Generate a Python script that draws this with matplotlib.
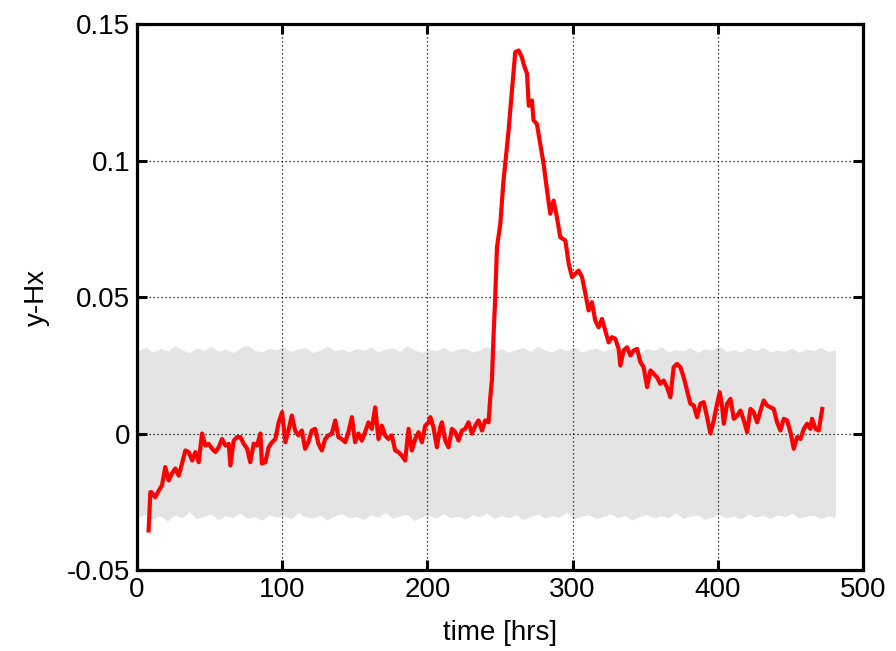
import numpy as np
import matplotlib.pyplot as plt

plt.rcParams['font.family'] = ['Liberation Sans', 'DejaVu Sans']

# innovation time series (hours, y-Hx)
t_hrs = [8, 9.2, 10, 12.6, 15, 17.2, 19.5, 21.8, 24, 26.4, 28.7, 31, 33.3, 35.6, 38, 40.2,
         42.5, 44.8, 47, 49.4, 51.7, 54, 56.3, 58.6, 60.9, 63.2, 64.3, 66.6, 68.9, 71.2,
         73.5, 75.8, 78, 80.4, 82.7, 85, 86, 88.4, 90.7, 93, 95.3, 97.6, 99.9, 102.2,
         104.3, 106.6, 108.9, 111.2, 113.5, 115.8, 118, 120.4, 122.7, 125, 127.3, 129.6,
         131.8, 134.2, 136.5, 138.7, 141, 143.4, 145.6, 148, 150.2, 152.5, 154.8, 157.1,
         159.4, 161.7, 164, 166.3, 168.6, 170.9, 173.2, 175.5, 177.8, 180.1, 182.4, 184.7,
         187, 189.3, 191.6, 193.9, 196.2, 198.5, 200.8, 202, 204.2, 206.5, 208.8, 210,
         212.3, 214.5, 216.9, 219.2, 221.4, 223.8, 226, 228.3, 230.7, 233, 235.2, 237.6,
         239.8, 242.1, 243.3, 244.4, 245.6, 246.7, 247.9, 250.2, 252.4, 253.6, 255.9,
         258.2, 260.5, 262.8, 265.1, 266.2, 268.6, 269.8, 272, 273.1, 275.4, 277.7, 280,
         282.4, 284.6, 286.9, 289.2, 291.5, 295, 297.3, 299.6, 301.9, 304.1, 306.5, 308.8,
         311, 313.3, 315.6, 317.9, 320.2, 322.5, 324.8, 327.1, 329.4, 331.7, 332.9, 335.1,
         337.5, 339.8, 342, 344.4, 346.7, 348.9, 351.3, 353.6, 355.8, 358.1, 360.4, 362.7,
         365, 367.3, 369.6, 371.9, 374.2, 376.5, 378.8, 381.1, 383.4, 385.7, 388, 390.3,
         392.6, 394.9, 397.2, 399.5, 401.3, 403, 404.1, 406.4, 408.7, 411, 413.3, 415.6,
         417.9, 420.2, 422.5, 424.7, 427.1, 429.4, 431.6, 433.9, 436.2, 438.5, 440.8,
         443.1, 445.4, 447.7, 450, 452.3, 454.6, 456.9, 459.2, 461.5, 463.8, 464.9, 467.3,
         469.5, 471.9]
innov = [-0.0355, -0.0215, -0.0215, -0.0233, -0.0209, -0.019, -0.0123, -0.0172, -0.0147,
         -0.0128, -0.0154, -0.011, -0.0062, -0.0068, -0.0099, -0.0068, -0.0105, 0.0,
         -0.0044, -0.0038, -0.0056, -0.0068, -0.005, -0.002, -0.0044, -0.0038, -0.0117,
         -0.0026, -0.0013, -0.0013, -0.0038, -0.0055, -0.0105, -0.0037, -0.0044, 0.0,
         -0.011, -0.0105, -0.005, -0.0032, -0.002, 0.0041, 0.0078, -0.0032,
         0.0011, 0.0066, 0.0011, -0.0007, 0.0011, -0.0056, -0.0032, 0.0011, 0.0017,
         -0.0038, -0.0062, -0.002, -0.0007, 0.0, 0.0048, -0.0013, -0.002, -0.0032, 0.0005,
         0.006, -0.0032, 0.0, -0.0026, 0.0005, 0.0041, 0.0017, 0.0096, -0.002, 0.0029,
         -0.0007, -0.002, -0.0007, -0.0062, -0.0068, -0.0081, -0.0099, 0.0017, -0.0062,
         -0.002, 0.0005, -0.0032, 0.0029, 0.0041, 0.006, 0.0023, -0.005, 0.0023, 0.0041,
         -0.0026, -0.005, 0.0017, 0.0005, -0.0026, 0.0011, 0.0017, 0.0041, 0.0, 0.0029,
         0.0048, 0.0011, 0.0048, 0.0041, 0.0133, 0.0194, 0.0365, 0.0499, 0.0682, 0.0768,
         0.0927, 0.0988, 0.111, 0.1256, 0.1397, 0.1403, 0.1378, 0.1354, 0.1318, 0.1201,
         0.122, 0.1147, 0.1134, 0.1061, 0.0988, 0.089, 0.0805, 0.0853, 0.0792, 0.0719,
         0.0707, 0.0622, 0.0573, 0.0585, 0.0597, 0.0573, 0.0512, 0.0451, 0.0481, 0.0414,
         0.0389, 0.042, 0.0377, 0.0334, 0.0353, 0.0347, 0.031, 0.0249, 0.0304, 0.0316,
         0.0286, 0.0304, 0.031, 0.0261, 0.0243, 0.017, 0.0231, 0.0219, 0.0206, 0.0182,
         0.0194, 0.017, 0.0133, 0.0243, 0.0255, 0.0243, 0.0206, 0.0158, 0.0109, 0.0103,
         0.006, 0.0109, 0.0115, 0.006, 0.0, 0.0048, 0.0109, 0.0151, 0.0096, 0.0036,
         0.0109, 0.0127, 0.0054, 0.0066, 0.0084, 0.0048, 0.0005, 0.009, 0.0078, 0.0041,
         0.0084, 0.0121, 0.0103, 0.0096, 0.009, 0.0041, 0.0011, 0.0054, 0.0048, 0.0005,
         -0.0056, -0.0013, -0.002, 0.0017, 0.0036, 0.0017, 0.0054, 0.0017, 0.0011, 0.009]

# expected spread envelope (+/- sigma), every 5 hrs
band_t = list(range(1, 482, 5))
band_hi = [0.0305, 0.0316, 0.0298, 0.0311, 0.0302, 0.0322, 0.0307, 0.0296, 0.0314, 0.0303,
           0.0319, 0.0301, 0.0309, 0.0297, 0.0313, 0.0325, 0.0304, 0.0299, 0.0311, 0.0306,
           0.0318, 0.0300, 0.0309, 0.0315, 0.0297, 0.0305, 0.0321, 0.0303, 0.0310, 0.0298,
           0.0312, 0.0304, 0.0317, 0.0299, 0.0308, 0.0314, 0.0301, 0.0323, 0.0306, 0.0297,
           0.0310, 0.0303, 0.0316, 0.0300, 0.0309, 0.0312, 0.0298, 0.0306, 0.0319, 0.0302,
           0.0311, 0.0297, 0.0308, 0.0314, 0.0300, 0.0320, 0.0305, 0.0299, 0.0312, 0.0303,
           0.0317, 0.0298, 0.0307, 0.0313, 0.0301, 0.0309, 0.0322, 0.0300, 0.0306, 0.0296,
           0.0311, 0.0304, 0.0318, 0.0299, 0.0308, 0.0302, 0.0315, 0.0297, 0.0310, 0.0305,
           0.0321, 0.0300, 0.0307, 0.0298, 0.0313, 0.0303, 0.0316, 0.0299, 0.0306, 0.0301,
           0.0312, 0.0297, 0.0309, 0.0304, 0.0315, 0.0300, 0.0307]
band_lo = [-0.0307, -0.0296, -0.0314, -0.0301, -0.0320, -0.0298, -0.0309, -0.0287, -0.0312, -0.0303,
           -0.0295, -0.0316, -0.0300, -0.0308, -0.0292, -0.0311, -0.0304, -0.0318, -0.0297, -0.0306,
           -0.0301, -0.0313, -0.0289, -0.0305, -0.0310, -0.0298, -0.0317, -0.0302, -0.0293, -0.0309,
           -0.0304, -0.0315, -0.0299, -0.0307, -0.0288, -0.0311, -0.0302, -0.0296, -0.0319, -0.0305,
           -0.0300, -0.0310, -0.0294, -0.0308, -0.0303, -0.0314, -0.0297, -0.0306, -0.0291, -0.0312,
           -0.0301, -0.0309, -0.0298, -0.0316, -0.0304, -0.0295, -0.0310, -0.0300, -0.0307, -0.0286,
           -0.0313, -0.0302, -0.0298, -0.0311, -0.0305, -0.0293, -0.0309, -0.0300, -0.0317, -0.0304,
           -0.0296, -0.0310, -0.0301, -0.0308, -0.0290, -0.0312, -0.0303, -0.0299, -0.0315, -0.0306,
           -0.0297, -0.0309, -0.0302, -0.0313, -0.0295, -0.0307, -0.0300, -0.0311, -0.0298, -0.0305,
           -0.0292, -0.0310, -0.0303, -0.0299, -0.0312, -0.0301, -0.0306]

xticks = [0, 100, 200, 300, 400, 500]
yticks = [-0.05, 0, 0.05, 0.1, 0.15]
ytick_labels = ['-0.05', '0', '0.05', '0.1', '0.15']

fig = plt.figure(figsize=(8.96, 6.51), dpi=100)
ax = fig.add_axes([0.1529, 0.1244, 0.8103, 0.8387])

ax.fill_between(band_t, band_lo, band_hi, color='#e4e4e4', linewidth=0, zorder=1)
ax.plot(t_hrs, innov, color='#ff0000', linewidth=3.0, zorder=3)

ax.set_xlim(0, 500)
ax.set_ylim(-0.05, 0.15)
ax.set_xticks(xticks)
ax.set_xticklabels([str(v) for v in xticks])
ax.set_yticks(yticks)
ax.set_yticklabels(ytick_labels)

ax.grid(True, color='black', linestyle=(0, (1, 2.2)), linewidth=0.9, zorder=2)
ax.set_axisbelow(False)
for sp in ax.spines.values():
    sp.set_linewidth(2.3)
    sp.set_zorder(4)
ax.tick_params(direction='in', length=7, width=2.2, top=True, right=True,
               labelsize=20, pad=5)

ax.set_xlabel('time [hrs]', fontsize=20, labelpad=12)
ax.set_ylabel('y-Hx', fontsize=20, labelpad=12)

fig.savefig('out.png', dpi=100)
